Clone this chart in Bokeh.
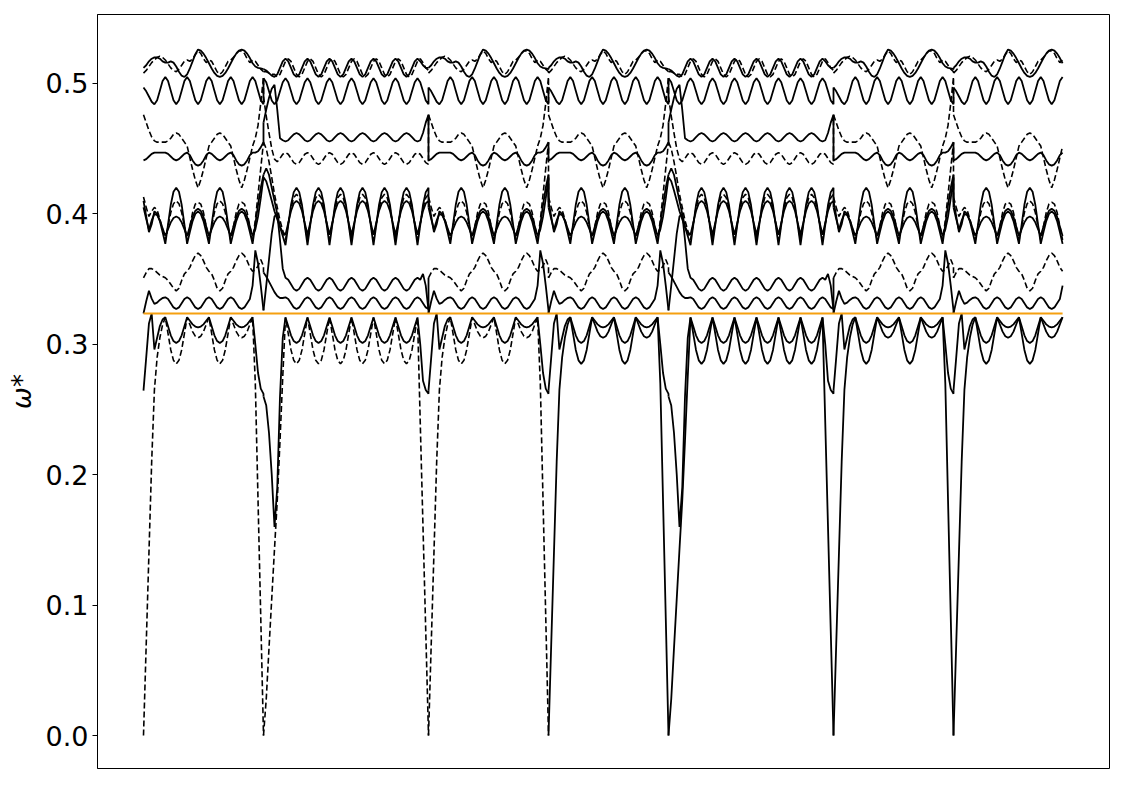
from bokeh.plotting import figure
from bokeh.models import FixedTicker, PrintfTickFormatter, Range1d
from bokeh.embed import file_html
from bokeh.resources import INLINE

# ---- k-path segments (A: short path, B: long path) ----
seg_kind = ["A", "B", "A", "A", "B", "A", "A"]
seg_start = [0.0, 1.0, 2.375, 3.375, 4.375, 5.75, 6.75]
seg_count = [45, 61, 45, 45, 61, 45, 41]
seg_step = {"A": 1.0 / 44, "B": 1.375 / 60}

orange_level = 0.3237
y_ticks = [0.0, 0.1, 0.2, 0.3, 0.4, 0.5]

# ---- band values along an A-type segment (45 samples) ----
A_T = [0.512, 0.514, 0.517, 0.519, 0.520, 0.520, 0.519, 0.517,
       0.516, 0.516, 0.517, 0.516, 0.513, 0.509, 0.506, 0.505,
       0.507, 0.5115, 0.517, 0.5225, 0.526, 0.5252, 0.5229, 0.5195,
       0.5155, 0.5115, 0.5081, 0.5058, 0.505, 0.5058, 0.5081, 0.5115,
       0.5155, 0.5195, 0.5229, 0.5252, 0.526, 0.5252, 0.5229, 0.5195,
       0.5155, 0.513, 0.512, 0.5115, 0.511]
A_T2 = [0.508, 0.510, 0.513, 0.516, 0.518, 0.520, 0.521, 0.520,
        0.518, 0.515, 0.512, 0.510, 0.509, 0.511, 0.514, 0.517,
        0.518, 0.517, 0.519, 0.522, 0.525, 0.523, 0.519, 0.516,
        0.518, 0.517, 0.513, 0.509, 0.507, 0.509, 0.513, 0.517,
        0.518, 0.520, 0.523, 0.525, 0.525, 0.523, 0.519, 0.516,
        0.518, 0.517, 0.514, 0.511, 0.509]
A_S = [0.497, 0.494, 0.490, 0.486, 0.484, 0.4871, 0.4945, 0.5019,
       0.505, 0.5019, 0.4945, 0.4871, 0.484, 0.4871, 0.4945, 0.5019,
       0.505, 0.5019, 0.4945, 0.4871, 0.484, 0.4871, 0.4945, 0.5019,
       0.505, 0.5019, 0.4945, 0.4871, 0.484, 0.4871, 0.4945, 0.5019,
       0.505, 0.5019, 0.4945, 0.4871, 0.484, 0.4871, 0.4945, 0.5019,
       0.505, 0.5019, 0.4945, 0.4871, 0.484]
A_U3 = [0.476, 0.470, 0.464, 0.459, 0.456, 0.455, 0.455, 0.455,
        0.455, 0.456, 0.458, 0.461, 0.462, 0.461, 0.458, 0.455,
        0.452, 0.443, 0.434, 0.426, 0.420, 0.426, 0.434, 0.443,
        0.452, 0.455, 0.458, 0.461, 0.462, 0.461, 0.458, 0.455,
        0.452, 0.443, 0.434, 0.426, 0.420, 0.426, 0.434, 0.443,
        0.452, 0.458, 0.468, 0.485, 0.505]
A_U4 = [0.441, 0.442, 0.444, 0.446, 0.447, 0.447, 0.447, 0.447,
        0.447, 0.446, 0.444, 0.442, 0.441, 0.442, 0.444, 0.446,
        0.447, 0.445, 0.441, 0.438, 0.437, 0.438, 0.441, 0.445,
        0.447, 0.446, 0.444, 0.442, 0.441, 0.442, 0.444, 0.446,
        0.447, 0.445, 0.441, 0.438, 0.437, 0.438, 0.441, 0.445,
        0.447, 0.447, 0.448, 0.451, 0.455]
A_L1 = [0.410, 0.398, 0.386, 0.392, 0.402, 0.400, 0.3945, 0.386,
        0.377, 0.392, 0.407, 0.417, 0.420, 0.417, 0.407, 0.392,
        0.377, 0.386, 0.3945, 0.400, 0.402, 0.400, 0.3945, 0.386,
        0.377, 0.392, 0.407, 0.417, 0.420, 0.417, 0.407, 0.392,
        0.377, 0.386, 0.3945, 0.400, 0.402, 0.400, 0.3945, 0.386,
        0.377, 0.392, 0.407, 0.420, 0.430]
A_L2 = [0.413, 0.405, 0.398, 0.402, 0.405, 0.403, 0.396, 0.388,
        0.380, 0.3905, 0.401, 0.4078, 0.410, 0.4078, 0.401, 0.3905,
        0.380, 0.3905, 0.401, 0.4075, 0.409, 0.4075, 0.401, 0.3905,
        0.380, 0.3905, 0.401, 0.4078, 0.410, 0.4078, 0.401, 0.3905,
        0.380, 0.3905, 0.401, 0.4075, 0.409, 0.4075, 0.401, 0.3905,
        0.380, 0.395, 0.415, 0.435, 0.455]
A_L3 = [0.405, 0.396, 0.388, 0.395, 0.400, 0.399, 0.395, 0.389,
        0.383, 0.3883, 0.3935, 0.3969, 0.398, 0.3969, 0.3935, 0.3883,
        0.383, 0.3904, 0.3977, 0.4024, 0.404, 0.4024, 0.3977, 0.3904,
        0.383, 0.3883, 0.3935, 0.3969, 0.398, 0.3969, 0.3935, 0.3883,
        0.383, 0.3904, 0.3977, 0.4024, 0.404, 0.4024, 0.3977, 0.3904,
        0.383, 0.388, 0.398, 0.412, 0.428]
A_D = [0.351, 0.355, 0.358, 0.358, 0.357, 0.355, 0.353, 0.352,
       0.351, 0.349, 0.346, 0.343, 0.341, 0.343, 0.349, 0.354,
       0.356, 0.359, 0.364, 0.368, 0.370, 0.368, 0.364, 0.359,
       0.356, 0.354, 0.349, 0.343, 0.341, 0.343, 0.349, 0.354,
       0.356, 0.359, 0.364, 0.368, 0.370, 0.368, 0.364, 0.359,
       0.356, 0.357, 0.360, 0.365, 0.360]
A_C = [0.3236, 0.333, 0.341, 0.335, 0.331, 0.332, 0.334, 0.3355,
       0.336, 0.3347, 0.3315, 0.3283, 0.327, 0.3283, 0.3315, 0.3347,
       0.336, 0.3347, 0.3315, 0.3283, 0.327, 0.3283, 0.3315, 0.3347,
       0.336, 0.3347, 0.3315, 0.3283, 0.327, 0.3283, 0.3315, 0.3347,
       0.336, 0.3347, 0.3315, 0.3283, 0.327, 0.3283, 0.3315, 0.3347,
       0.345, 0.372, 0.362, 0.345, 0.326]
A_BO1 = [0.2645, 0.290, 0.316, 0.3236, 0.296, 0.305, 0.314, 0.319,
         0.3207, 0.3138, 0.3069, 0.3025, 0.301, 0.3025, 0.3069, 0.3138,
         0.3207, 0.318, 0.3153, 0.3136, 0.313, 0.3136, 0.3153, 0.318,
         0.3207, 0.3138, 0.3069, 0.3025, 0.301, 0.3025, 0.3069, 0.3138,
         0.3207, 0.318, 0.3153, 0.3136, 0.313, 0.3136, 0.3153, 0.318,
         0.3207, 0.300, 0.278, 0.266, 0.262]
A_BO2 = [0.000, 0.070, 0.140, 0.210, 0.265, 0.290, 0.305, 0.315,
         0.3207, 0.3082, 0.2957, 0.2877, 0.285, 0.2877, 0.2957, 0.3082,
         0.3207, 0.3152, 0.3097, 0.3062, 0.305, 0.3062, 0.3097, 0.3152,
         0.3207, 0.3082, 0.2957, 0.2877, 0.285, 0.2877, 0.2957, 0.3082,
         0.3207, 0.3152, 0.3097, 0.3062, 0.305, 0.3062, 0.3097, 0.3152,
         0.3207, 0.270, 0.180, 0.090, 0.000]

# ---- band values along a B-type segment (61 samples) ----
B_T = [0.511, 0.510, 0.508, 0.506, 0.505, 0.507, 0.512, 0.517,
       0.519, 0.517, 0.512, 0.507, 0.505, 0.507, 0.512, 0.517,
       0.519, 0.517, 0.512, 0.507, 0.505, 0.507, 0.512, 0.517,
       0.519, 0.517, 0.512, 0.507, 0.505, 0.507, 0.512, 0.517,
       0.519, 0.517, 0.512, 0.507, 0.505, 0.507, 0.512, 0.517,
       0.519, 0.517, 0.512, 0.507, 0.505, 0.507, 0.512, 0.517,
       0.519, 0.517, 0.512, 0.507, 0.505, 0.507, 0.512, 0.517,
       0.519, 0.517, 0.514, 0.512, 0.512]
B_T2 = [0.509, 0.509, 0.508, 0.507, 0.507, 0.505, 0.507, 0.512,
        0.517, 0.519, 0.517, 0.512, 0.507, 0.505, 0.507, 0.512,
        0.517, 0.519, 0.517, 0.512, 0.507, 0.505, 0.507, 0.512,
        0.517, 0.519, 0.517, 0.512, 0.507, 0.505, 0.507, 0.512,
        0.517, 0.519, 0.517, 0.512, 0.507, 0.505, 0.507, 0.512,
        0.517, 0.519, 0.517, 0.512, 0.507, 0.505, 0.507, 0.512,
        0.517, 0.519, 0.517, 0.512, 0.507, 0.505, 0.507, 0.512,
        0.517, 0.519, 0.516, 0.512, 0.510]
B_S = [0.504, 0.501, 0.494, 0.487, 0.484, 0.487, 0.494, 0.501,
       0.504, 0.501, 0.494, 0.487, 0.484, 0.487, 0.494, 0.501,
       0.504, 0.501, 0.494, 0.487, 0.484, 0.487, 0.494, 0.501,
       0.504, 0.501, 0.494, 0.487, 0.484, 0.487, 0.494, 0.501,
       0.504, 0.501, 0.494, 0.487, 0.484, 0.487, 0.494, 0.501,
       0.504, 0.501, 0.494, 0.487, 0.484, 0.487, 0.494, 0.501,
       0.504, 0.501, 0.494, 0.487, 0.484, 0.487, 0.494, 0.501,
       0.504, 0.501, 0.494, 0.487, 0.484]
B_U3 = [0.490, 0.475, 0.462, 0.450, 0.442, 0.440, 0.4425, 0.4457,
        0.447, 0.4457, 0.4425, 0.4393, 0.438, 0.4393, 0.4425, 0.4457,
        0.447, 0.4457, 0.4425, 0.4393, 0.438, 0.4393, 0.4425, 0.4457,
        0.447, 0.4457, 0.4425, 0.4393, 0.438, 0.4393, 0.4425, 0.4457,
        0.447, 0.4457, 0.4425, 0.4393, 0.438, 0.4393, 0.4425, 0.4457,
        0.447, 0.4457, 0.4425, 0.4393, 0.438, 0.4393, 0.4425, 0.4457,
        0.447, 0.4457, 0.4425, 0.4393, 0.438, 0.4393, 0.4425, 0.4457,
        0.447, 0.4457, 0.4425, 0.4393, 0.438]
B_U4 = [0.470, 0.480, 0.489, 0.496, 0.499, 0.480, 0.458, 0.4565,
        0.4555, 0.4565, 0.4588, 0.461, 0.462, 0.461, 0.4588, 0.4565,
        0.4555, 0.4565, 0.4588, 0.461, 0.462, 0.461, 0.4588, 0.4565,
        0.4555, 0.4565, 0.4588, 0.461, 0.462, 0.461, 0.4588, 0.4565,
        0.4555, 0.4565, 0.4588, 0.461, 0.462, 0.461, 0.4588, 0.4565,
        0.4555, 0.4565, 0.4588, 0.461, 0.462, 0.461, 0.4588, 0.4565,
        0.4555, 0.4565, 0.4588, 0.461, 0.462, 0.461, 0.4588, 0.4565,
        0.4555, 0.4565, 0.462, 0.470, 0.476]
B_L1 = [0.430, 0.435, 0.430, 0.420, 0.410, 0.400, 0.390, 0.383,
        0.376, 0.3914, 0.4068, 0.4167, 0.420, 0.4167, 0.4068, 0.3914,
        0.376, 0.3914, 0.4068, 0.4167, 0.420, 0.4167, 0.4068, 0.3914,
        0.376, 0.3914, 0.4068, 0.4167, 0.420, 0.4167, 0.4068, 0.3914,
        0.376, 0.3914, 0.4068, 0.4167, 0.420, 0.4167, 0.4068, 0.3914,
        0.376, 0.3914, 0.4068, 0.4167, 0.420, 0.4167, 0.4068, 0.3914,
        0.376, 0.3914, 0.4068, 0.4167, 0.420, 0.4167, 0.4068, 0.3914,
        0.376, 0.3914, 0.4068, 0.4167, 0.420]
B_L2 = [0.455, 0.450, 0.440, 0.428, 0.415, 0.405, 0.395, 0.387,
        0.380, 0.3923, 0.4045, 0.4124, 0.415, 0.4124, 0.4045, 0.3923,
        0.380, 0.3923, 0.4045, 0.4124, 0.415, 0.4124, 0.4045, 0.3923,
        0.380, 0.3923, 0.4045, 0.4124, 0.415, 0.4124, 0.4045, 0.3923,
        0.380, 0.3923, 0.4045, 0.4124, 0.415, 0.4124, 0.4045, 0.3923,
        0.380, 0.3923, 0.4045, 0.4124, 0.415, 0.4124, 0.4045, 0.3923,
        0.380, 0.3923, 0.4045, 0.4124, 0.415, 0.4124, 0.4045, 0.3923,
        0.380, 0.3923, 0.4045, 0.4124, 0.415]
B_L3 = [0.428, 0.425, 0.418, 0.410, 0.402, 0.396, 0.390, 0.386,
        0.384, 0.3931, 0.4022, 0.4081, 0.410, 0.4081, 0.4022, 0.3931,
        0.384, 0.3931, 0.4022, 0.4081, 0.410, 0.4081, 0.4022, 0.3931,
        0.384, 0.3931, 0.4022, 0.4081, 0.410, 0.4081, 0.4022, 0.3931,
        0.384, 0.3931, 0.4022, 0.4081, 0.410, 0.4081, 0.4022, 0.3931,
        0.384, 0.3931, 0.4022, 0.4081, 0.410, 0.4081, 0.4022, 0.3931,
        0.384, 0.3931, 0.4022, 0.4081, 0.410, 0.4081, 0.4022, 0.3931,
        0.384, 0.3931, 0.4022, 0.4081, 0.410]
B_D = [0.355, 0.352, 0.348, 0.344, 0.340, 0.337, 0.3355, 0.3355,
       0.336, 0.3347, 0.3315, 0.3283, 0.327, 0.3283, 0.3315, 0.3347,
       0.336, 0.3347, 0.3315, 0.3283, 0.327, 0.3283, 0.3315, 0.3347,
       0.336, 0.3347, 0.3315, 0.3283, 0.327, 0.3283, 0.3315, 0.3347,
       0.336, 0.3347, 0.3315, 0.3283, 0.327, 0.3283, 0.3315, 0.3347,
       0.336, 0.3347, 0.3315, 0.3283, 0.327, 0.3283, 0.3315, 0.3347,
       0.336, 0.3347, 0.3315, 0.3283, 0.327, 0.3283, 0.3315, 0.3347,
       0.336, 0.3347, 0.3315, 0.3283, 0.327]
B_C = [0.326, 0.345, 0.365, 0.385, 0.398, 0.400, 0.380, 0.358,
       0.351, 0.3495, 0.346, 0.3425, 0.341, 0.3425, 0.346, 0.3495,
       0.351, 0.3495, 0.346, 0.3425, 0.341, 0.3425, 0.346, 0.3495,
       0.351, 0.3495, 0.346, 0.3425, 0.341, 0.3425, 0.346, 0.3495,
       0.351, 0.3495, 0.346, 0.3425, 0.341, 0.3425, 0.346, 0.3495,
       0.351, 0.3495, 0.346, 0.3425, 0.341, 0.3425, 0.346, 0.3495,
       0.351, 0.3495, 0.346, 0.3425, 0.341, 0.3425, 0.346, 0.3495,
       0.351, 0.3495, 0.354, 0.345, 0.326]
B_BO1 = [0.260, 0.253, 0.232, 0.200, 0.160, 0.190, 0.260, 0.305,
         0.3206, 0.3138, 0.3069, 0.3025, 0.301, 0.3025, 0.3069, 0.3138,
         0.3206, 0.3138, 0.3069, 0.3025, 0.301, 0.3025, 0.3069, 0.3138,
         0.3206, 0.3138, 0.3069, 0.3025, 0.301, 0.3025, 0.3069, 0.3138,
         0.3206, 0.3138, 0.3069, 0.3025, 0.301, 0.3025, 0.3069, 0.3138,
         0.3206, 0.3138, 0.3069, 0.3025, 0.301, 0.3025, 0.3069, 0.3138,
         0.3206, 0.3138, 0.3069, 0.3025, 0.301, 0.3025, 0.3069, 0.3138,
         0.3206, 0.300, 0.272, 0.265, 0.262]
B_BO2 = [0.000, 0.028, 0.067, 0.105, 0.143, 0.180, 0.226, 0.275,
         0.3206, 0.3082, 0.2957, 0.2877, 0.285, 0.2877, 0.2957, 0.3082,
         0.3206, 0.3082, 0.2957, 0.2877, 0.285, 0.2877, 0.2957, 0.3082,
         0.3206, 0.3082, 0.2957, 0.2877, 0.285, 0.2877, 0.2957, 0.3082,
         0.3206, 0.3082, 0.2957, 0.2877, 0.285, 0.2877, 0.2957, 0.3082,
         0.3206, 0.3082, 0.2957, 0.2877, 0.285, 0.2877, 0.2957, 0.3082,
         0.3206, 0.3082, 0.2957, 0.2877, 0.285, 0.2877, 0.2957, 0.3082,
         0.3206, 0.240, 0.160, 0.080, 0.000]

S, D = "solid", "dashed"
bands = [
    (A_T, B_T, [S, S, S, S, S, S, S]),
    (A_T2, B_T2, [D, D, D, D, D, D, D]),
    (A_S, B_S, [S, S, S, S, S, S, S]),
    (A_U3, B_U3, [D, D, D, D, D, D, D]),
    (A_U4, B_U4, [S, S, S, S, S, S, S]),
    (A_L1, B_L1, [S, S, S, S, S, S, S]),
    (A_L2, B_L2, [D, D, D, D, D, D, D]),
    (A_L3, B_L3, [S, S, S, S, S, S, S]),
    (A_D, B_D, [D, S, D, D, S, D, D]),
    (A_C, B_C, [S, S, S, S, S, S, S]),
    (A_BO1, B_BO1, [S, S, S, S, S, S, S]),
    (A_BO2, B_BO2, [D, D, D, S, S, S, S]),
]

p = figure(frame_width=1012, frame_height=754,
           x_range=Range1d(-0.3833, 8.05), y_range=Range1d(-0.0253, 0.5529),
           output_backend="svg", toolbar_location=None,
           min_border_left=97, min_border_right=12, min_border_top=14, min_border_bottom=12,
           background_fill_color="white", border_fill_color="white")
p.xaxis.visible = False
p.xgrid.visible = False
p.ygrid.visible = False
p.outline_line_color = "black"
p.outline_line_width = 1
p.outline_line_alpha = 1.0

ax = p.yaxis[0]
ax.ticker = FixedTicker(ticks=y_ticks, minor_ticks=[])
ax.formatter = PrintfTickFormatter(format="%.1f")
ax.major_label_text_font = "DejaVu Sans"
ax.major_label_text_font_size = "27px"
ax.major_label_text_color = "black"
ax.major_tick_out = 5
ax.major_tick_in = 0
ax.minor_tick_out = 0
ax.minor_tick_in = 0
ax.major_tick_line_color = "black"
ax.axis_line_color = "black"
ax.major_label_standoff = 4
ax.axis_label = "ω*"
ax.axis_label_text_font = "DejaVu Sans"
ax.axis_label_text_font_size = "26px"
ax.axis_label_text_font_style = "italic"
ax.axis_label_text_color = "black"
ax.axis_label_standoff = 6


def segment_xy(vals_a, vals_b, k):
    kind = seg_kind[k]
    vals = vals_a if kind == "A" else vals_b
    n = seg_count[k]
    xs = [seg_start[k] + i * seg_step[kind] for i in range(n)]
    ys = list(vals[:n])
    if k + 1 < len(seg_kind):
        nk = seg_kind[k + 1]
        nvals = vals_a if nk == "A" else vals_b
        xs.append(seg_start[k + 1])
        ys.append(nvals[0])
    return xs, ys


for vals_a, vals_b, styles in bands:
    for k in range(len(seg_kind)):
        xs, ys = segment_xy(vals_a, vals_b, k)
        if styles[k] == S:
            p.line(xs, ys, line_color="black", line_width=1.8)
        else:
            p.line(xs, ys, line_color="black", line_width=1.6, line_dash="6 3")

x_end = seg_start[-1] + (seg_count[-1] - 1) * seg_step["A"]
p.line([0.0, x_end], [orange_level, orange_level], line_color="#f5a010", line_width=2)

open("out.html", "w").write(file_html(p, INLINE))
